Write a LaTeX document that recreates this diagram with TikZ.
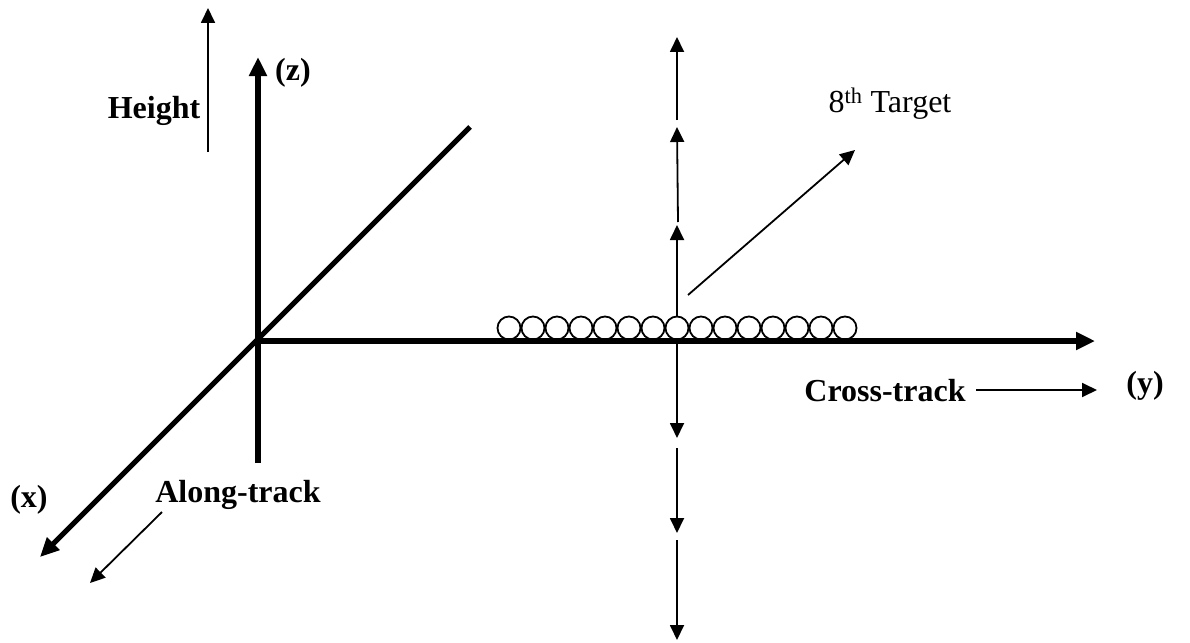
\documentclass[tikz,border=0pt]{standalone}
\usepackage{fontspec}
\setmainfont{Liberation Serif}
\usetikzlibrary{arrows.meta}
\begin{document}
\begin{tikzpicture}[x=1pt,y=-1pt,
  axis/.style={line width=5.2pt, -{Triangle[length=19pt,width=17pt]}},
  thinarrow/.style={line width=1.8pt, -{Triangle[length=15pt,width=14pt]}},
  lbl/.style={font=\fontsize{32}{36}\selectfont\bfseries, inner sep=0pt},
  plainlbl/.style={font=\fontsize{32}{36}\selectfont, inner sep=0pt},
  targetdot/.style={circle, draw, line width=1.8pt, fill=white, minimum size=23pt, inner sep=0pt}]
\useasboundingbox (0,0) rectangle (1190,642);
% axis end points
\coordinate (zbot) at (258,463);
\coordinate (ztop) at (258,57);
\coordinate (org) at (258,341);
\coordinate (yend) at (1095,341);
\coordinate (xtop) at (470,127);
\coordinate (xend) at (40,557);
% vertical target line arrows
\coordinate (u1a) at (677,328); \coordinate (u1b) at (677,225);
\coordinate (u2a) at (678,222); \coordinate (u2b) at (677,127);
\coordinate (u3a) at (677,120); \coordinate (u3b) at (677,37);
\coordinate (d1a) at (677,341); \coordinate (d1b) at (677,438);
\coordinate (d2a) at (677,448); \coordinate (d2b) at (677,533);
\coordinate (d3a) at (677,540); \coordinate (d3b) at (677,640);
% thin helper arrows
\coordinate (ha) at (208,152); \coordinate (hb) at (208,8);
\coordinate (aa) at (162,512); \coordinate (ab) at (90,583);
\coordinate (ca) at (976,390); \coordinate (cb) at (1097,390);
\coordinate (ta) at (688,295); \coordinate (tb) at (855,150);

\draw[thinarrow] (u1a) -- (u1b);
\draw[thinarrow] (u2a) -- (u2b);
\draw[thinarrow] (u3a) -- (u3b);
\draw[thinarrow] (d1a) -- (d1b);
\draw[thinarrow] (d2a) -- (d2b);
\draw[thinarrow] (d3a) -- (d3b);

\foreach \i in {0,...,14} {
  \node[targetdot] (t\i) at (509+24*\i,328) {};
}

\draw[axis] (zbot) -- (ztop);
\draw[axis] (org) -- (yend);
\draw[axis] (xtop) -- (xend);

\draw[thinarrow] (ha) -- (hb);
\draw[thinarrow] (aa) -- (ab);
\draw[thinarrow] (ca) -- (cb);
\draw[thinarrow] (ta) -- (tb);

\node[lbl] (zlab) at (293,73) {(z)};
\node[lbl] (hlab) at (154,111) {Height};
\node[lbl] (xlab) at (29,500) {(x)};
\node[lbl] (alab) at (238,495) {Along-track};
\node[lbl] (clab) at (885,391) {Cross-track};
\node[lbl] (ylab) at (1145,386) {(y)};
\node[plainlbl] (tlab) at (890,104) {8\textsuperscript{th} Target};
\end{tikzpicture}
\end{document}
